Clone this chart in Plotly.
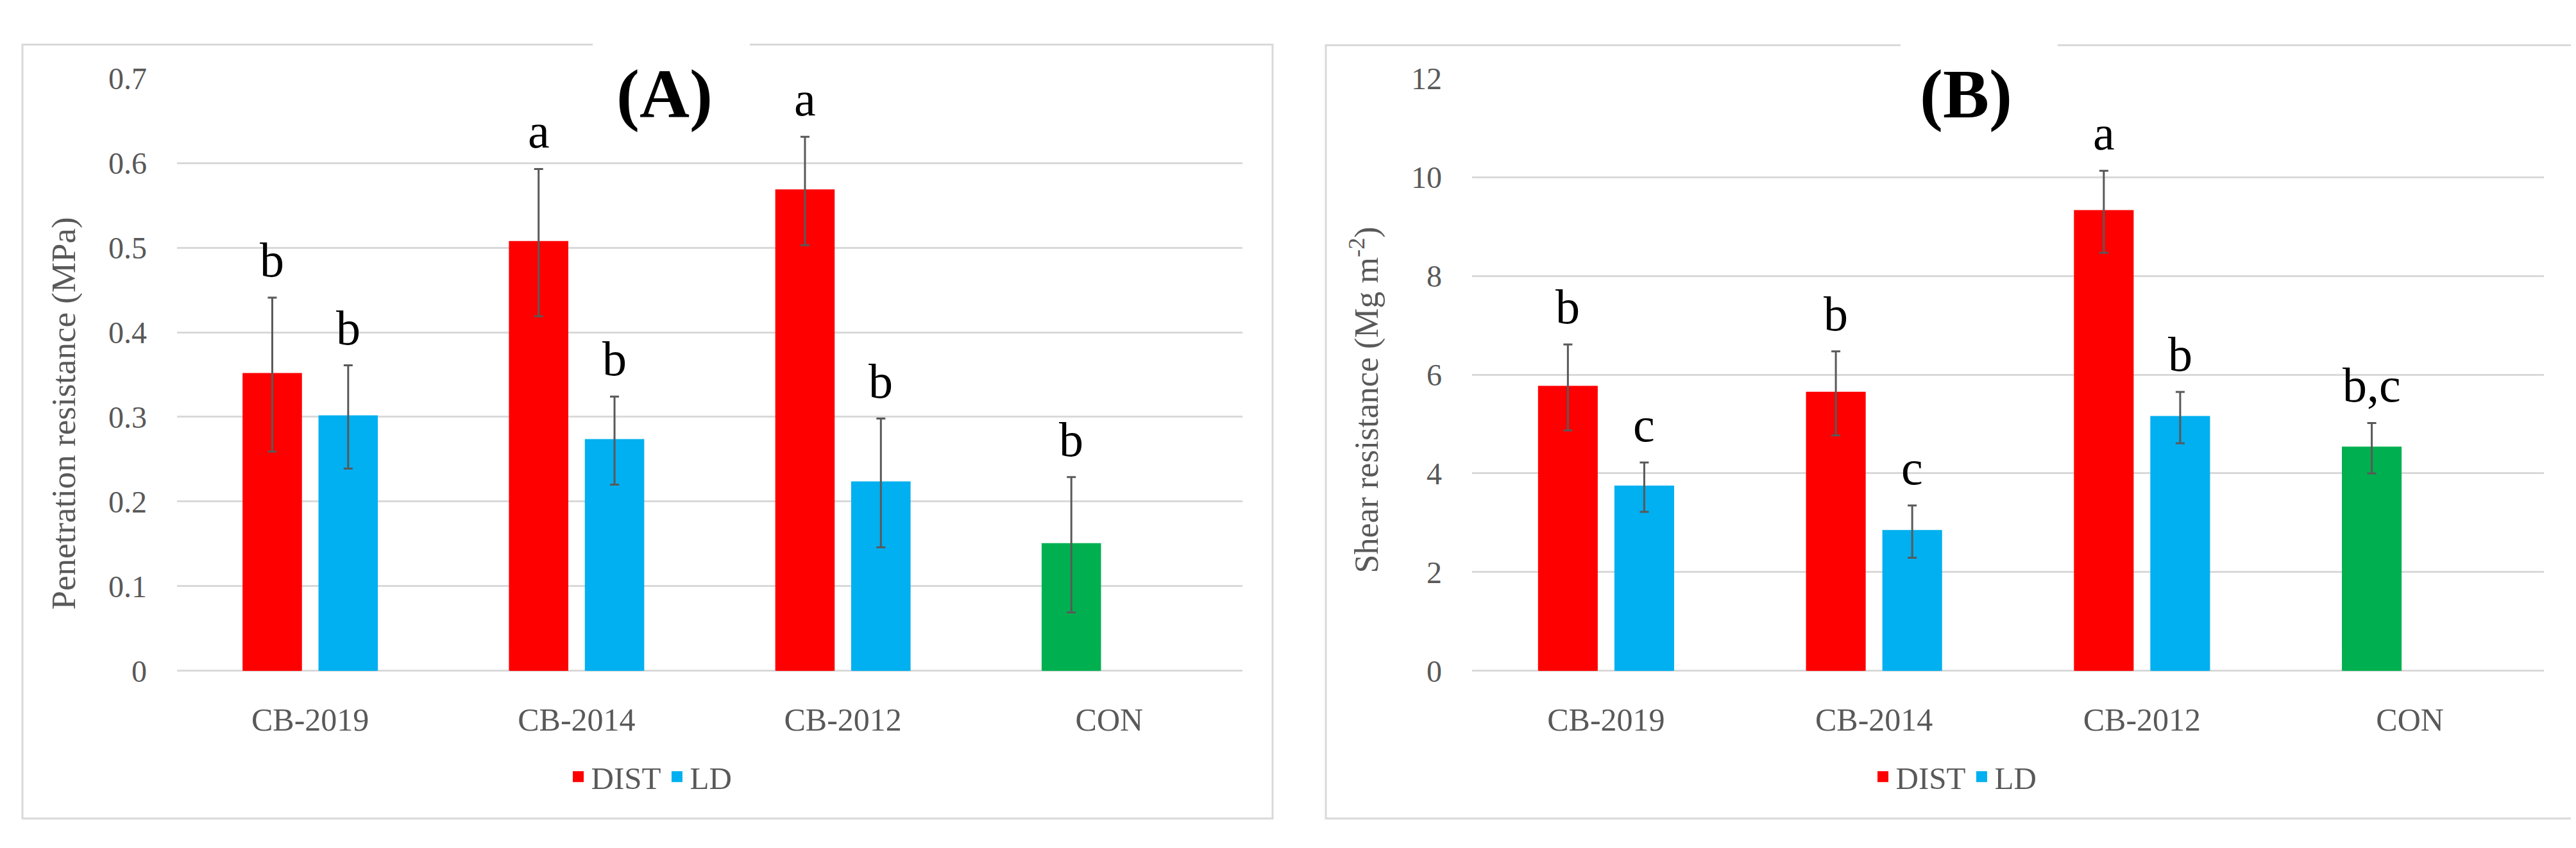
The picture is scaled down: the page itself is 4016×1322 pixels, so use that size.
import plotly.graph_objects as go

W, H = 4016, 1322

categories = ["CB-2019", "CB-2014", "CB-2012", "CON"]
series_names = ["DIST", "LD"]

# Panel A: Penetration resistance (MPa)
pr_dist = [0.350, 0.506, 0.567, 0.149]
pr_dist_err = [0.091, 0.087, 0.064, 0.080]
pr_ld = [0.300, 0.272, 0.222, None]
pr_ld_err = [0.061, 0.052, 0.076, None]
pr_dist_letters = ["b", "a", "a", "b"]
pr_ld_letters = ["b", "b", "b", ""]

# Panel B: Shear resistance (Mg m-2)
sr_dist = [5.74, 5.62, 9.30, 4.51]
sr_dist_err = [0.87, 0.85, 0.83, 0.51]
sr_ld = [3.72, 2.82, 5.13, None]
sr_ld_err = [0.50, 0.53, 0.52, None]
sr_dist_letters = ["b", "b", "a", "b,c"]
sr_ld_letters = ["c", "c", "b", ""]

panel_titles = ["(A)", "(B)"]
y_titles = ["Penetration resistance (MPa)", "Shear resistance (Mg m<sup>-2</sup>)"]

RED, BLUE, GREEN = "#FF0000", "#00B0F0", "#00B050"
dist_colors = [RED, RED, RED, GREEN]
GRAY_TXT = "#595959"
GRID = "#d9d9d9"
FONT = "Liberation Serif"

BARGAP = 0.43
BARGROUPGAP = 0.26
OUTLINE = 5  # outline in the bar's own colour (also enlarges the legend swatch)


def px_x(v):
    return v / W


def px_y(v):
    return 1 - v / H


fig = go.Figure()

err_style = dict(type="data", color=GRAY_TXT, thickness=3, width=7, visible=True)

for (xa, ya, lg, d, de, l, le) in [
    ("x", "y", "legend", pr_dist, pr_dist_err, pr_ld, pr_ld_err),
    ("x2", "y2", "legend2", sr_dist, sr_dist_err, sr_ld, sr_ld_err),
]:
    fig.add_trace(go.Bar(
        x=categories, y=d, name=series_names[0],
        marker=dict(color=dist_colors, line=dict(width=OUTLINE, color=dist_colors)),
        error_y=dict(array=de, **err_style),
        xaxis=xa, yaxis=ya, legend=lg,
    ))
    fig.add_trace(go.Bar(
        x=categories, y=l, name=series_names[1],
        marker=dict(color=BLUE, line=dict(width=OUTLINE, color=BLUE)),
        error_y=dict(array=le, **err_style),
        xaxis=xa, yaxis=ya, legend=lg,
    ))

xdomA = [px_x(268), px_x(1929)]
xdomB = [px_x(2287), px_x(3958)]
ydom = [px_y(1054), px_y(92)]

axis_x_common = dict(
    showline=False, showgrid=False, zeroline=False, ticks="",
    tickfont=dict(family=FONT, size=50, color=GRAY_TXT),
    ticklabelstandoff=42,
)
axis_y_common = dict(
    showline=False, showgrid=True, gridcolor=GRID, gridwidth=3,
    zeroline=True, zerolinecolor=GRID, zerolinewidth=3, ticks="",
    tickfont=dict(family=FONT, size=48, color=GRAY_TXT),
    ticklabelstandoff=46,
)

legend_common = dict(
    orientation="h", xanchor="center", yanchor="middle", y=px_y(1226),
    font=dict(family=FONT, size=49, color=GRAY_TXT),
    bgcolor="rgba(0,0,0,0)", itemwidth=30, tracegroupgap=0,
)

fig.update_layout(
    width=W, height=H,
    margin=dict(l=0, r=0, t=0, b=0),
    paper_bgcolor="white", plot_bgcolor="white",
    barmode="group", bargap=BARGAP, bargroupgap=BARGROUPGAP,
    font=dict(family=FONT, color=GRAY_TXT),
    xaxis=dict(domain=xdomA, anchor="y", **axis_x_common),
    yaxis=dict(domain=ydom, anchor="x", range=[0, 0.7], dtick=0.1, **axis_y_common),
    xaxis2=dict(domain=xdomB, anchor="y2", **axis_x_common),
    yaxis2=dict(domain=ydom, anchor="x2", range=[0, 12], dtick=2, **axis_y_common),
    legend=dict(x=px_x(1006), **legend_common),
    legend2=dict(x=px_x(3040), **legend_common),
)

annotations = []


def add_letters(xa, ya, vals, errs, letters, side, cat_px):
    slot = (1 - BARGAP) / 2 * cat_px
    shift = side * slot / 2
    for c, v, e, t in zip(categories, vals, errs, letters):
        if v is None or not t:
            continue
        annotations.append(dict(
            x=c, y=v + e, xref=xa, yref=ya, text=t, showarrow=False,
            xanchor="center", yanchor="bottom", xshift=shift, yshift=15,
            font=dict(family=FONT, size=76, color="black"),
        ))


catA = (1929 - 268) / 4
catB = (3958 - 2287) / 4
add_letters("x", "y", pr_dist, pr_dist_err, pr_dist_letters, -1, catA)
add_letters("x", "y", pr_ld, pr_ld_err, pr_ld_letters, 1, catA)
add_letters("x2", "y2", sr_dist, sr_dist_err, sr_dist_letters, -1, catB)
add_letters("x2", "y2", sr_ld, sr_ld_err, sr_ld_letters, 1, catB)

# y-axis titles
for txt, xc, yc, fs in [(y_titles[0], 92, 636, 53), (y_titles[1], 2120, 614, 52)]:
    annotations.append(dict(
        x=px_x(xc), y=px_y(yc), xref="paper", yref="paper", text=txt,
        textangle=-90, showarrow=False, xanchor="center", yanchor="middle",
        font=dict(family=FONT, size=fs, color=GRAY_TXT),
    ))

# panel titles
for txt, xc in [(panel_titles[0], 1028), (panel_titles[1], 3057)]:
    annotations.append(dict(
        x=px_x(xc), y=px_y(118), xref="paper", yref="paper", text="<b>%s</b>" % txt,
        showarrow=False, xanchor="center", yanchor="middle",
        font=dict(family=FONT, size=108, color="black"),
    ))
fig.update_layout(annotations=annotations)

# panel borders, then white boxes behind the titles (gap in border and top gridline)
shapes = []


def border(x0, x1, y0, y1, g0, g1):
    shapes.append(dict(type="rect", xref="paper", yref="paper",
                       x0=px_x(x0), y0=px_y(y0), x1=px_x(x1), y1=px_y(y1),
                       line=dict(color=GRID, width=3), fillcolor="rgba(0,0,0,0)",
                       layer="above"))
    shapes.append(dict(type="rect", xref="paper", yref="paper",
                       x0=px_x(g0), y0=px_y(28), x1=px_x(g1), y1=px_y(190),
                       line=dict(width=0), fillcolor="white", layer="above"))


border(27, 1976, 37, 1294, 916, 1161)
border(2059, 4003, 38, 1294, 2955, 3200)
fig.update_layout(shapes=shapes)

fig.write_html("out.html")
